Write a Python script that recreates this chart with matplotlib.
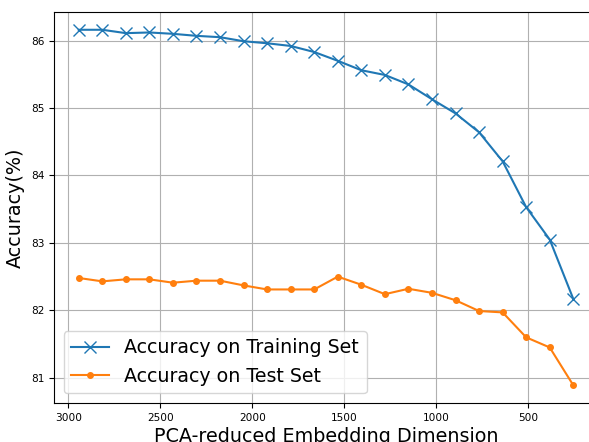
import matplotlib
matplotlib.use('Agg')
import matplotlib.pyplot as plt
import numpy as np

# PCA-reduced dimensions, 2944 down to 256
dims = [2944, 2816, 2688, 2560, 2432, 2304, 2176, 2048, 1920, 1792, 1664,
        1536, 1408, 1280, 1152, 1024, 896, 768, 640, 512, 384, 256]

train_acc = [86.16, 86.16, 86.11, 86.12, 86.10, 86.07, 86.05, 85.99, 85.96,
             85.92, 85.83, 85.70, 85.56, 85.49, 85.35, 85.13, 84.92, 84.64,
             84.21, 83.53, 83.05, 82.17]

test_acc = [82.48, 82.43, 82.46, 82.46, 82.41, 82.44, 82.44, 82.37, 82.31,
            82.31, 82.31, 82.50, 82.38, 82.24, 82.32, 82.26, 82.15, 81.99,
            81.97, 81.60, 81.45, 80.89]


def main():
    fig = plt.figure(figsize=(5.89, 4.42), dpi=100)
    # the reference is cropped: right spine and x label run off the image
    ax = fig.add_axes([54 / 589, 39 / 442, 544 / 589, 391 / 442])

    ax.plot(dims, train_acc, marker='x', markersize=8,
            label='Accuracy on Training Set')
    ax.plot(dims, test_acc, marker='o', markersize=4,
            label='Accuracy on Test Set')

    ax.invert_xaxis()
    ax.grid(True)
    ax.tick_params(labelsize=7.6)
    ax.set_xlabel('PCA-reduced Embedding Dimension', fontsize=13.8, labelpad=3)
    ax.set_ylabel('Accuracy(%)', fontsize=13.8)
    ax.legend(loc='lower left', fontsize=13.7)

    fig.savefig('out.png', dpi=100)


if __name__ == '__main__':
    main()
